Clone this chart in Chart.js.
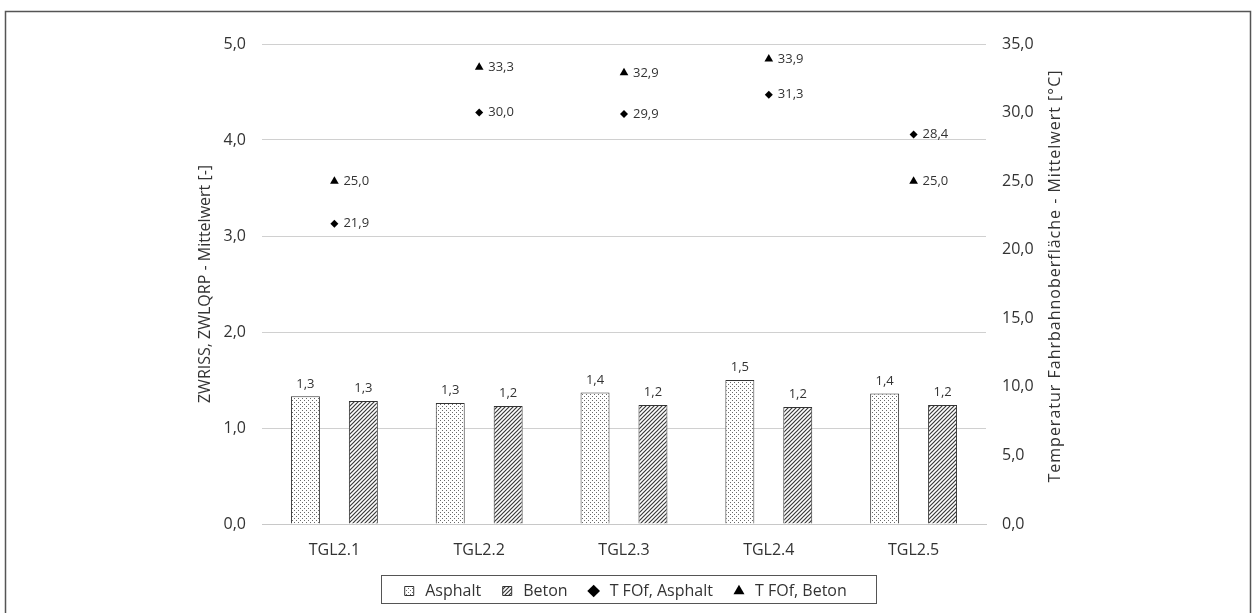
<!DOCTYPE html>
<html>
<head>
<meta charset="utf-8">
<script src="https://cdn.jsdelivr.net/npm/chart.js@4/dist/chart.umd.min.js"></script>
<style>
  html, body { margin: 0; padding: 0; background: #fff; }
  #wrap { width: 1253px; height: 613px; position: relative; }
</style>
</head>
<body>
<div id="wrap"><canvas id="chart"></canvas></div>
<script>
// categories and values
const categories = ["TGL2.1", "TGL2.2", "TGL2.3", "TGL2.4", "TGL2.5"];
const asphaltZw = [1.33, 1.26, 1.37, 1.50, 1.36];
const betonZw = [1.28, 1.23, 1.24, 1.22, 1.24];
const asphaltTemp = [21.9, 30.0, 29.9, 31.3, 28.4];
const betonTemp = [25.0, 33.3, 32.9, 33.9, 25.0];
const leftTicks = [0, 1, 2, 3, 4, 5];
const rightTicks = [0, 5, 10, 15, 20, 25, 30, 35];

const textColor = "#333";
const fontFamily = "'Open Sans', 'DejaVu Sans', sans-serif";

function fmt(v) {
  return v.toFixed(1).replace(".", ",");
}

// fill patterns for the bars
function dotPattern() {
  const c = document.createElement("canvas");
  c.width = 4; c.height = 4;
  const g = c.getContext("2d");
  g.fillStyle = "#fff";
  g.fillRect(0, 0, 4, 4);
  g.fillStyle = "#6a6a6a";
  g.fillRect(0, 0, 1, 1);
  g.fillRect(2, 2, 1, 1);
  return g.createPattern(c, "repeat");
}

function hatchPattern() {
  const c = document.createElement("canvas");
  c.width = 4; c.height = 4;
  const g = c.getContext("2d");
  g.fillStyle = "#fff";
  g.fillRect(0, 0, 4, 4);
  g.strokeStyle = "#3a3a3a";
  g.lineWidth = 1.2;
  g.beginPath();
  g.moveTo(0, 4); g.lineTo(4, 0);
  g.moveTo(-1, 1); g.lineTo(1, -1);
  g.moveTo(3, 5); g.lineTo(5, 3);
  g.stroke();
  return g.createPattern(c, "repeat");
}

function vTitle(ctx, text, x, y, spacing) {
  ctx.save();
  ctx.fillStyle = textColor;
  ctx.font = "16px " + fontFamily;
  ctx.letterSpacing = spacing;
  ctx.textAlign = "center";
  ctx.textBaseline = "middle";
  ctx.translate(x, y);
  ctx.rotate(-Math.PI / 2);
  ctx.fillText(text, 0, 0);
  ctx.restore();
}

// outer frame, axis titles, value labels, legend frame
const extras = {
  id: "extras",
  beforeDraw(chart) {
    const ctx = chart.ctx;
    ctx.save();
    ctx.fillStyle = "#fff";
    ctx.fillRect(0, 0, chart.width, chart.height);
    ctx.strokeStyle = "#555";
    ctx.lineWidth = 1.5;
    ctx.strokeRect(5.5, 11.5, 1245, 700);
    ctx.restore();
  },
  afterDatasetsDraw(chart) {
    const ctx = chart.ctx;
    ctx.save();
    ctx.fillStyle = textColor;
    ctx.font = "13px " + fontFamily;
    chart.data.datasets.forEach((ds, i) => {
      const meta = chart.getDatasetMeta(i);
      meta.data.forEach((el, j) => {
        const v = ds.data[j];
        if (ds.type === "line") {
          ctx.textAlign = "left";
          ctx.textBaseline = "middle";
          ctx.fillText(fmt(v), el.x + 9, el.y);
        } else {
          ctx.textAlign = "center";
          ctx.textBaseline = "bottom";
          ctx.fillText(fmt(v), el.x, el.y - 6);
        }
      });
    });
    ctx.restore();
  },
  afterDraw(chart) {
    const ctx = chart.ctx;
    const area = chart.chartArea;
    vTitle(ctx, "ZWRISS, ZWLQRP - Mittelwert [-]", 205, (area.top + area.bottom) / 2, "0px");
    vTitle(ctx, "Temperatur Fahrbahnoberfläche - Mittelwert [°C]", 1055, 276, "1px");

    const boxes = chart.legend.legendHitBoxes;
    if (boxes && boxes.length) {
      let l = Infinity, r = -Infinity;
      boxes.forEach(h => {
        l = Math.min(l, h.left); r = Math.max(r, h.left + h.width);
      });
      ctx.save();
      ctx.strokeStyle = "#555";
      ctx.lineWidth = 1;
      ctx.strokeRect(Math.round(l - 20) + 0.5, 575.5, Math.round(r - l + 49), 28);
      ctx.restore();
    }
  }
};

new Chart(document.getElementById("chart").getContext("2d"), {
  type: "bar",
  data: {
    labels: categories,
    datasets: [
      {
        label: "Asphalt",
        data: asphaltZw,
        backgroundColor: dotPattern(),
        borderColor: "#333",
        borderWidth: 1,
        pointStyle: "rect",
        yAxisID: "y",
        order: 2
      },
      {
        label: "Beton",
        data: betonZw,
        backgroundColor: hatchPattern(),
        borderColor: "#333",
        borderWidth: 1,
        pointStyle: "rect",
        yAxisID: "y",
        order: 2
      },
      {
        type: "line",
        label: "T FOf, Asphalt",
        data: asphaltTemp,
        showLine: false,
        pointStyle: "rectRot",
        pointRadius: 4,
        backgroundColor: "#000",
        borderColor: "#000",
        borderWidth: 0,
        yAxisID: "y2",
        order: 1
      },
      {
        type: "line",
        label: "T FOf, Beton",
        data: betonTemp,
        showLine: false,
        pointStyle: "triangle",
        pointRadius: 5,
        backgroundColor: "#000",
        borderColor: "#000",
        borderWidth: 0,
        yAxisID: "y2",
        order: 1
      }
    ]
  },
  options: {
    responsive: true,
    maintainAspectRatio: false,
    animation: false,
    layout: { padding: { left: 202, right: 207, top: 44, bottom: 4 } },
    datasets: {
      bar: { categoryPercentage: 0.8, barPercentage: 0.5 }
    },
    scales: {
      x: {
        grid: { display: false, drawTicks: false },
        border: { color: "#c8c8c8", width: 1 },
        ticks: { color: textColor, font: { family: fontFamily, size: 16 }, padding: 17 },
        afterFit(s) { s.height = 41; }
      },
      y: {
        position: "left",
        min: 0,
        max: 5,
        afterBuildTicks(s) { s.ticks = leftTicks.map(v => ({ value: v })); },
        grid: { color: "#d0d0d0", drawTicks: false },
        border: { display: false },
        ticks: {
          color: textColor,
          font: { family: fontFamily, size: 16 },
          padding: 16,
          callback: v => fmt(v)
        },
        afterFit(s) { s.width = 60; }
      },
      y2: {
        position: "right",
        min: 0,
        max: 35,
        afterBuildTicks(s) { s.ticks = rightTicks.map(v => ({ value: v })); },
        grid: { display: false, drawTicks: false },
        border: { display: false },
        ticks: {
          color: textColor,
          font: { family: fontFamily, size: 16 },
          padding: 16,
          callback: v => fmt(v)
        },
        afterFit(s) { s.width = 60; }
      }
    },
    plugins: {
      legend: {
        position: "bottom",
        labels: {
          color: textColor,
          font: { family: fontFamily, size: 16 },
          usePointStyle: true,
          boxHeight: 9,
          padding: 18,
          sort: (a, b) => a.datasetIndex - b.datasetIndex
        }
      },
      tooltip: { enabled: false }
    }
  },
  plugins: [extras]
});
</script>
</body>
</html>
